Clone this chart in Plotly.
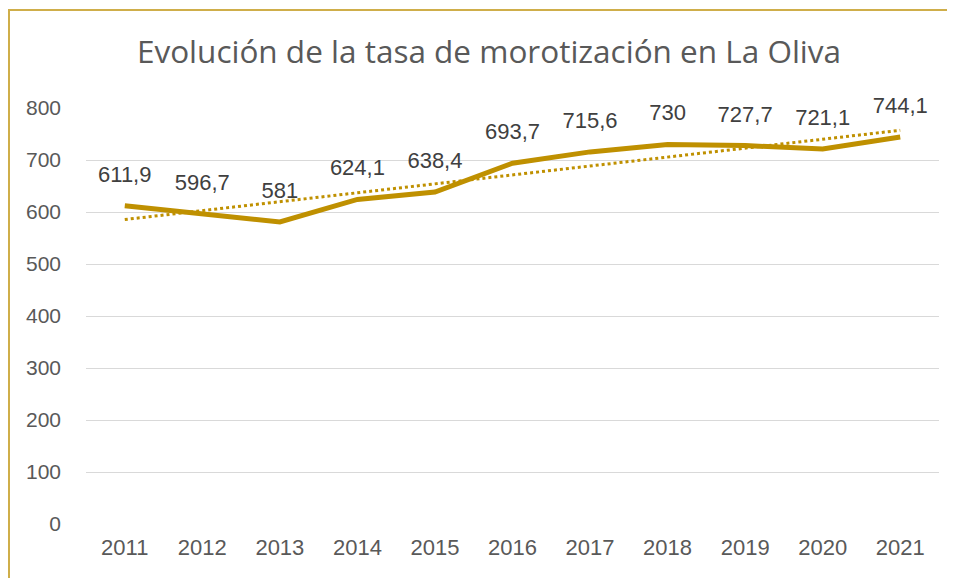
import plotly.graph_objects as go
import numpy as np

years = ["2011", "2012", "2013", "2014", "2015", "2016", "2017", "2018", "2019", "2020", "2021"]
values = [611.9, 596.7, 581, 624.1, 638.4, 693.7, 715.6, 730, 727.7, 721.1, 744.1]
y_ticks = [0, 100, 200, 300, 400, 500, 600, 700, 800]
title = "Evolución de la tasa de morotización en La Oliva"

gold = "#BF9000"
grey = "#595959"
FONT = "Liberation Sans"

labels = [(f"{v:g}").replace(".", ",") for v in values]

# linear trend line (least squares fit of the series)
xi = np.arange(len(values))
slope, intercept = np.polyfit(xi, values, 1)
trend = slope * xi + intercept

fig = go.Figure()
fig.add_trace(go.Scatter(
    x=years, y=trend, mode="lines",
    line=dict(color=gold, width=3, dash="dot"),
    hoverinfo="skip", showlegend=False,
))
fig.add_trace(go.Scatter(
    x=years, y=values, mode="lines",
    line=dict(color=gold, width=5),
    cliponaxis=False, showlegend=False,
))
# data labels (invisible markers push the text above the line)
fig.add_trace(go.Scatter(
    x=years, y=values, mode="markers+text",
    marker=dict(size=28, color="rgba(0,0,0,0)"),
    text=labels, textposition="top center",
    textfont=dict(size=22, color="#404040", family=FONT),
    cliponaxis=False, showlegend=False, hoverinfo="skip",
))

W, H = 955, 578
OFF = 8  # page body offset
L, R, T, B = 86 - OFF, 955 - 939 + OFF, 108 - OFF, 578 - 524 + OFF
pw, ph = W - L - R, H - T - B

fig.update_layout(
    width=W, height=H,
    margin=dict(l=L, r=R, t=T, b=B),
    paper_bgcolor="white", plot_bgcolor="white",
    title=dict(text=title, x=(489 - OFF) / W, xanchor="center", y=1 - (52 - OFF) / H, yanchor="middle",
               font=dict(size=31.5, color=grey, family="Open Sans")),
    font=dict(family=FONT, color=grey, size=21),
    xaxis=dict(type="category", range=[-0.5, 10.5], showgrid=False, showline=False, ticks="",
               tickfont=dict(size=22, color=grey), ticklabelstandoff=8),
    yaxis=dict(range=[0, 800], tickvals=y_ticks, showgrid=True, gridcolor="#d9d9d9",
               gridwidth=1, zeroline=False, showline=False, ticks="",
               tickfont=dict(size=21, color=grey), ticklabelstandoff=24),
    shapes=[dict(type="rect", xref="paper", yref="paper",
                 x0=(1 - L) / pw, x1=1.5, y0=-1, y1=(H - B - 2) / ph,
                 line=dict(color="#CFAE4A", width=2), layer="below")],
)

fig.write_html("out.html")
